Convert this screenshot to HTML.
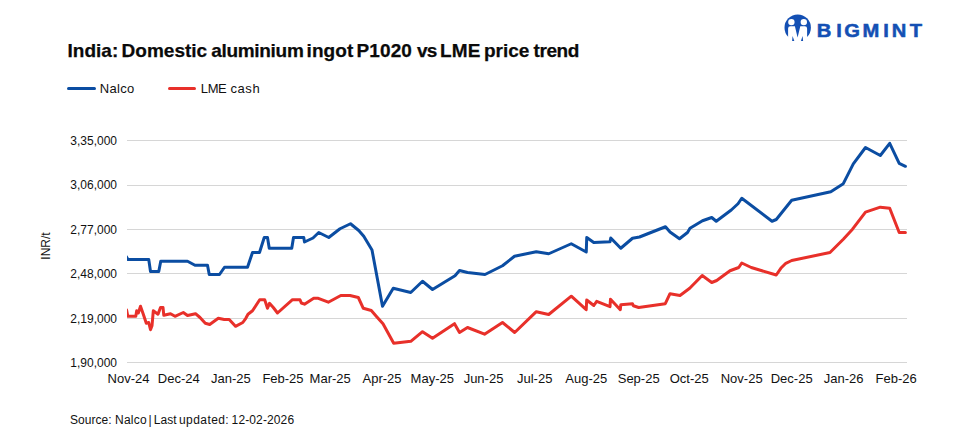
<!DOCTYPE html>
<html>
<head>
<meta charset="utf-8">
<title>India: Domestic aluminium ingot P1020 vs LME price trend</title>
<style>
  html, body { margin: 0; padding: 0; background: #ffffff; }
  body { width: 972px; height: 445px; position: relative; overflow: hidden;
         font-family: "Liberation Sans", sans-serif; color: #111; }
  .abs { position: absolute; white-space: nowrap; }
  .tw { font-size: 19px; font-weight: bold; color: #0a0a0a; line-height: 24px; -webkit-text-stroke: 0.25px #0a0a0a; }
  .lw { font-size: 13px; line-height: 16px; color: #111; }
  .fw { font-size: 12px; line-height: 16px; color: #111; }
  .ylab { font-size: 12px; line-height: 14px; width: 117px; left: 0; text-align: right; color: #111; }
  .xlab { font-size: 13px; line-height: 15px; top: 371px; width: 80px; text-align: center; color: #111; }
  #ytitle { font-size: 12px; line-height: 14px; left: 46px; top: 245.5px; transform: translate(-50%,-50%) rotate(-90deg); color: #111; }
  .bl { font-size: 18px; line-height: 22px; font-weight: bold; color: #1450b4; top: 20px; width: 30px; text-align: center;
        transform: scaleX(1.12); -webkit-text-stroke: 0.5px #1450b4; }
  svg { position: absolute; left: 0; top: 0; }
</style>
</head>
<body>
<svg width="972" height="445" viewBox="0 0 972 445">
  <g stroke="#d6d6d6" stroke-width="1" shape-rendering="crispEdges">
    <line x1="127" x2="907" y1="140.5" y2="140.5"/>
    <line x1="127" x2="907" y1="185.5" y2="185.5"/>
    <line x1="127" x2="907" y1="229.5" y2="229.5"/>
    <line x1="127" x2="907" y1="273.5" y2="273.5"/>
    <line x1="127" x2="907" y1="318.5" y2="318.5"/>
    <line x1="127" x2="907" y1="362.5" y2="362.5"/>
  </g>
  <line x1="68.5" x2="94.5" y1="88.5" y2="88.5" stroke="#0b4da2" stroke-width="3" stroke-linecap="round"/>
  <line x1="169.5" x2="194.5" y1="88.5" y2="88.5" stroke="#e8302a" stroke-width="3" stroke-linecap="round"/>
  <clipPath id="plot"><rect x="127" y="130" width="781" height="240"/></clipPath>
  <polyline clip-path="url(#plot)" fill="none" stroke="#e8302a" stroke-width="3" stroke-linejoin="round" stroke-linecap="round" points="126.6,310 127.8,316.2 135.8,316.2 136.7,310.8 138.3,313 140.5,306.3 143.3,314.2 146.3,323.3 148.7,322.5 150.5,329.7 152,325.8 153.3,310.8 158,314.2 160.5,307.5 163,307.5 163.8,315.3 170.5,313.7 175,316.3 183.3,312.5 187.5,315.5 195.5,313.7 200,317.5 205.3,323.3 209.7,324.5 218.3,318.3 224.2,319.5 229.2,319.5 235.5,326.3 242.8,322.5 245.8,318.3 248,314.2 252.5,310.8 259.7,299.7 264.7,299.7 267.5,308.3 269.5,303.3 273.3,307.5 277.5,313 292.5,299.7 300,299.7 301.3,303 304.5,304.2 313.7,298.3 318.3,298.3 328.3,302.2 340.8,295.5 350,295.5 358.3,297.5 363.3,308.3 371.3,310.5 376.7,316.7 383,323.7 393.7,343.3 410.8,341.3 422.5,331.7 432.5,338.3 454.5,323.7 459.5,332.5 467.5,327.5 484.5,334.2 502.5,322.5 514.7,332.5 536.3,311.7 548.7,314.5 571.3,296.2 586.2,309.7 586.7,300 593.8,305.5 596.7,301.3 610,306.7 610.5,299.2 620.3,309.7 620.8,304.7 632.5,303.7 633.3,305.8 638.7,307.5 665.3,303.7 670,293.7 680,295.5 689.7,288.3 702.2,275.5 711.7,282.5 716.7,280.5 730,270.75 738.75,267.5 741.75,263 751.25,267.5 776.25,275 780.8,268.3 785.8,263.3 791.7,260.5 830,252.5 843.3,239.2 852.5,229.2 865.5,212.2 880.3,207.2 889.7,208.3 899.2,232.5 905.4,232.5"/>
  <polyline clip-path="url(#plot)" fill="none" stroke="#0b4da2" stroke-width="3" stroke-linejoin="round" stroke-linecap="round" points="126.2,256.5 128,259.5 148.75,259.5 150.5,271.5 158.75,271.5 160.75,261.25 187.5,261.25 195,265.25 207.5,265.25 209.25,274.5 219.5,274.5 224.5,267.25 247.5,267.25 252.5,252.5 259.5,252.5 264.25,237.5 267.5,237.5 269.25,248.25 291.75,248.25 293.5,237.5 303.75,237.5 304.5,242 313,238 318.75,232.5 328.75,237.5 340,228.75 350.5,223.75 358.75,230.5 363.75,236.25 372,250 382.5,306.25 393.25,288.25 410.75,292.5 422.5,281.25 432.5,289.5 455,275.75 459.5,270.5 467.5,272.5 485,274.5 502.5,265.75 514.5,256.25 536.25,251.75 548.75,253.75 571.25,243.75 586.25,252 586.75,237.5 593.75,242.5 610,241.75 610.75,238 620.75,248.25 632.5,238.25 639.5,237 665.5,226.75 670,232 679.5,238.75 687.5,232.5 690,228.25 702.5,220.75 711.75,217.5 716.25,221.25 731.25,210 738,203.75 741.75,198.25 772,221.25 776.25,219.5 791.7,200.3 830.8,191.7 843.3,183.7 853.3,163.8 865.5,147.5 880.3,155.5 889.7,143.3 899.2,163.3 905.4,166.3"/>
  <g>
    <circle cx="797.7" cy="27.7" r="13.2" fill="#1450b4"/>
    <circle cx="791.4" cy="22.1" r="3.2" fill="#fff"/>
    <circle cx="803.8" cy="22.1" r="3.2" fill="#fff"/>
    <path d="M788.1,42 L788.1,28.5 Q788.1,26.3 790.3,26.3 L794.9,26.3 L797.6,37.6 L800.3,26.3 L804.9,26.3 Q807.1,26.3 807.1,28.5 L807.1,42 Z" fill="#fff"/>
    <path d="M792.6,35.9 L794.3,41 L792.1,41 Z" fill="#1450b4"/>
    <path d="M802.6,35.9 L803.1,41 L800.9,41 Z" fill="#1450b4"/>
  </g>
</svg>
<span class="abs bl" style="left:809.2px">B</span>
<span class="abs bl" style="left:824.0px">I</span>
<span class="abs bl" style="left:836.8px">G</span>
<span class="abs bl" style="left:855.9px">M</span>
<span class="abs bl" style="left:871.3px">I</span>
<span class="abs bl" style="left:884.2px">N</span>
<span class="abs bl" style="left:901.0px">T</span>
<span class="abs tw" style="left:67.4px;top:39px;letter-spacing:0.05px">India:</span>
<span class="abs tw" style="left:121.6px;top:39px;letter-spacing:0.0px">Domestic</span>
<span class="abs tw" style="left:211.2px;top:39px;letter-spacing:-0.3px">aluminium</span>
<span class="abs tw" style="left:306.5px;top:39px;letter-spacing:0.1px">ingot</span>
<span class="abs tw" style="left:356.6px;top:39px;letter-spacing:0.1px">P1020</span>
<span class="abs tw" style="left:417.0px;top:39px;letter-spacing:-0.8px">vs</span>
<span class="abs tw" style="left:440.0px;top:39px;letter-spacing:0.1px">LME</span>
<span class="abs tw" style="left:483.9px;top:39px;letter-spacing:0.0px">price</span>
<span class="abs tw" style="left:533.5px;top:39px;letter-spacing:-0.4px">trend</span>
<span class="abs lw" style="left:99.8px;top:81px;letter-spacing:0.3px">Nalco</span>
<span class="abs lw" style="left:200.8px;top:81px;letter-spacing:-0.4px">LME</span>
<span class="abs lw" style="left:230.4px;top:81px;letter-spacing:0.6px">cash</span>
<div class="abs ylab" style="top:134px;">3,35,000</div>
<div class="abs ylab" style="top:178px;">3,06,000</div>
<div class="abs ylab" style="top:223px;">2,77,000</div>
<div class="abs ylab" style="top:267px;">2,48,000</div>
<div class="abs ylab" style="top:312px;">2,19,000</div>
<div class="abs ylab" style="top:356px;">1,90,000</div>
<div id="ytitle" class="abs">INR/t</div>
<div class="abs xlab" style="left:88.50px;">Nov-24</div>
<div class="abs xlab" style="left:138.75px;">Dec-24</div>
<div class="abs xlab" style="left:190.90px;">Jan-25</div>
<div class="abs xlab" style="left:243.00px;">Feb-25</div>
<div class="abs xlab" style="left:290.20px;">Mar-25</div>
<div class="abs xlab" style="left:342.00px;">Apr-25</div>
<div class="abs xlab" style="left:392.30px;">May-25</div>
<div class="abs xlab" style="left:443.50px;">Jun-25</div>
<div class="abs xlab" style="left:494.70px;">Jul-25</div>
<div class="abs xlab" style="left:546.30px;">Aug-25</div>
<div class="abs xlab" style="left:598.70px;">Sep-25</div>
<div class="abs xlab" style="left:649.20px;">Oct-25</div>
<div class="abs xlab" style="left:701.70px;">Nov-25</div>
<div class="abs xlab" style="left:751.70px;">Dec-25</div>
<div class="abs xlab" style="left:803.70px;">Jan-26</div>
<div class="abs xlab" style="left:856.20px;">Feb-26</div>
<span class="abs fw" style="left:70.0px;top:412px;letter-spacing:0.05px">Source:</span>
<span class="abs fw" style="left:115.0px;top:412px;letter-spacing:0.25px">Nalco</span>
<span class="abs fw" style="left:148.6px;top:412px;letter-spacing:0.0px">|</span>
<span class="abs fw" style="left:153.8px;top:412px;letter-spacing:0.0px">Last</span>
<span class="abs fw" style="left:179.0px;top:412px;letter-spacing:0.42px">updated:</span>
<span class="abs fw" style="left:231.6px;top:412px;letter-spacing:0.12px">12-02-2026</span>
</body>
</html>
